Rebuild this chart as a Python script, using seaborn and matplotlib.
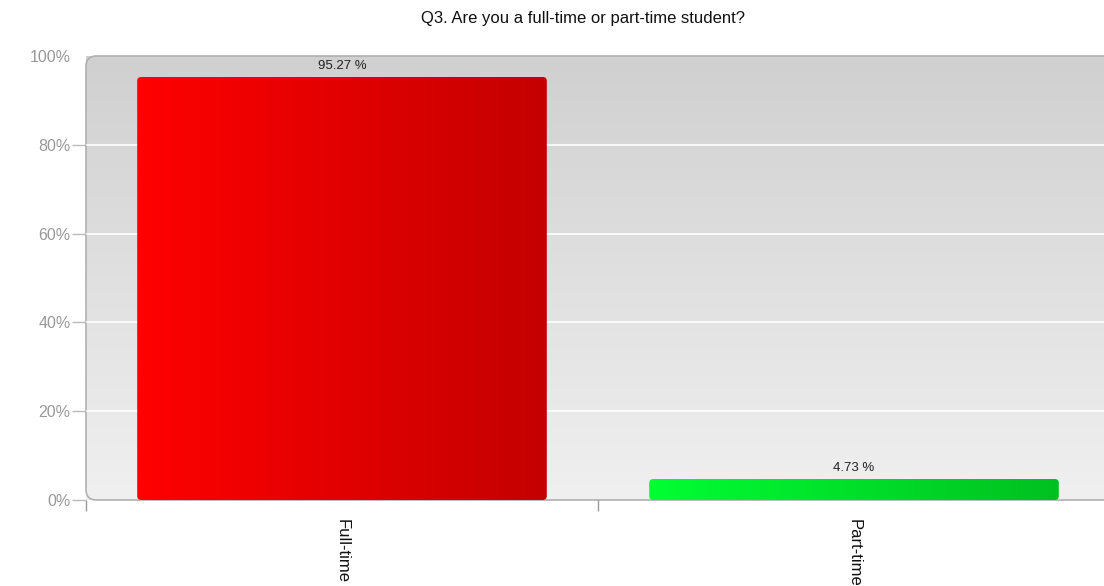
import numpy as np
import pandas as pd
import matplotlib
matplotlib.use("Agg")
import matplotlib.pyplot as plt
import seaborn as sns
from matplotlib.patches import FancyBboxPatch
from matplotlib.colors import LinearSegmentedColormap

# data
categories = ["Full-time", "Part-time"]
percentages = [95.27, 4.73]
value_labels = ["95.27 %", "4.73 %"]
ytick_values = [0, 20, 40, 60, 80, 100]
ytick_labels = ["0%", "20%", "40%", "60%", "80%", "100%"]
title = "Q3. Are you a full-time or part-time student?"

bar_grads = [("#ff0000", "#c40000"), ("#00ff33", "#00c020")]

df = pd.DataFrame({"category": categories, "pct": percentages})

sns.set_style("white")
plt.rcParams["font.family"] = ["Liberation Sans", "DejaVu Sans"]

W, H = 1104, 586
fig = plt.figure(figsize=(W / 100, H / 100), dpi=100)
ax = fig.add_axes([86 / W, 1 - 500 / H, 1024 / W, 444 / H])

sns.barplot(data=df, x="category", y="pct", hue="category", palette=["#ff0000", "#00ff33"],
            width=0.8, legend=False, ax=ax, zorder=2)

ax.set_xlim(-0.5, 1.5)
ax.set_ylim(0, 100)

# background panel with vertical gray gradient and rounded corners
ax.patch.set_visible(False)
panel = FancyBboxPatch((0, 0), 1.03, 1, boxstyle="round,pad=0,rounding_size=0.01",
                       mutation_aspect=1024 / 444, transform=ax.transAxes,
                       facecolor="none", edgecolor="#b0b0b0", lw=1.2, zorder=-1,
                       clip_on=False)
ax.add_patch(panel)
bg_cmap = LinearSegmentedColormap.from_list("bg", ["#f0f0f0", "#d0d0d0"])
grad = np.linspace(0, 1, 256).reshape(-1, 1)
bg = ax.imshow(grad, cmap=bg_cmap, aspect="auto", extent=[0, 1.03, 0, 1], origin="lower",
               transform=ax.transAxes, zorder=-2, clip_on=False)
bg.set_clip_path(panel)

# gridlines
for v in ytick_values[1:-1]:
    ax.axhline(v, color="white", lw=1.2, zorder=0.5)

# gradient bars with rounded tops
px_x = 1 / 512
px_y = 100 / 444
for bar, (c0, c1), lab in zip(ax.patches, bar_grads, value_labels):
    x0, w, h = bar.get_x(), bar.get_width(), bar.get_height()
    bar.set_visible(False)
    shape = FancyBboxPatch((x0, 0), w, h, boxstyle="round,pad=0,rounding_size=%f" % (4 * px_x),
                           mutation_aspect=px_y / px_x, facecolor="none", edgecolor="none")
    ax.add_patch(shape)
    cmap = LinearSegmentedColormap.from_list("b", [c0, c1])
    img = ax.imshow(np.linspace(0, 1, 256).reshape(1, -1), cmap=cmap, aspect="auto",
                    extent=[x0, x0 + w, 0, h], zorder=2)
    img.set_clip_path(shape)
    ax.text(x0 + w / 2, h + 1.2, lab, ha="center", va="bottom", fontsize=9.5, color="#222222")

ax.set_xlim(-0.5, 1.5)
ax.set_ylim(0, 100)

for s in ax.spines.values():
    s.set_visible(False)

ax.set_yticks(ytick_values)
ax.set_yticklabels(ytick_labels)
ax.tick_params(axis="y", left=True, length=10, width=1, color="#bbbbbb",
               labelcolor="#999999", labelsize=11.5, pad=1)
ax.yaxis.get_major_ticks()[-1].tick1line.set_visible(False)

ax.set_xticks([0, 1])
ax.set_xticklabels(categories, rotation=-90, va="top", ha="center")
ax.set_xticks([-0.5, 0.5], minor=True)
ax.tick_params(axis="x", which="major", length=0, labelsize=12, labelcolor="#111111", pad=14)
ax.tick_params(axis="x", which="minor", bottom=True, length=8, width=1, color="#999999")
ax.set_xlabel("")
ax.set_ylabel("")

fig.text(583 / W, 1 - 19 / H, title, ha="center", va="center", fontsize=12, color="#111111")

fig.savefig("out.png", dpi=100)
